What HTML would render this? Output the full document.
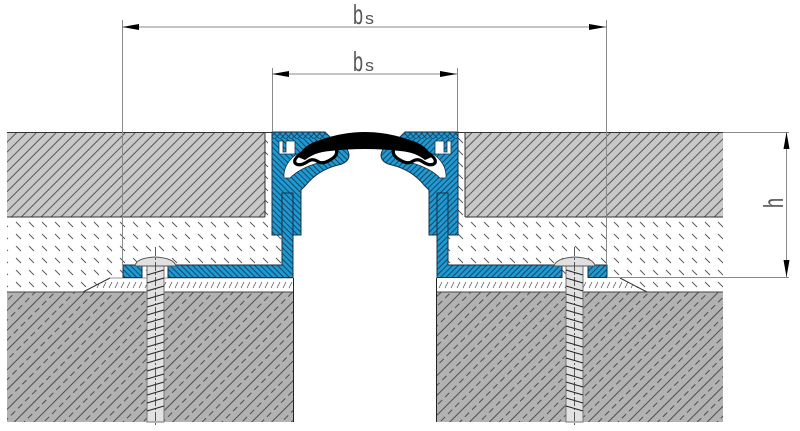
<!DOCTYPE html>
<html><head><meta charset="utf-8"><style>html,body{margin:0;padding:0;background:#fff}svg{display:block}</style></head>
<body>
<svg width="800" height="431" viewBox="0 0 800 431" xmlns="http://www.w3.org/2000/svg">
<defs>
<pattern id="tile" patternUnits="userSpaceOnUse" width="7" height="7" patternTransform="rotate(45)">
 <rect width="7" height="7" fill="#c8c8c8"/>
 <line x1="0.5" y1="0" x2="0.5" y2="7" stroke="#3a3a3a" stroke-width="0.8"/>
</pattern>
<pattern id="conc" patternUnits="userSpaceOnUse" width="14" height="20" patternTransform="rotate(45)">
 <rect width="14" height="20" fill="#b2b2b2"/>
 <line x1="0.5" y1="0" x2="0.5" y2="20" stroke="#333" stroke-width="0.8"/>
 <line x1="7.5" y1="0" x2="7.5" y2="20" stroke="#333" stroke-width="0.8" stroke-dasharray="6 4"/>
</pattern>
<pattern id="mort" patternUnits="userSpaceOnUse" x="2" y="221" width="13" height="12">
 <rect width="13" height="12" fill="#fff"/>
 <line x1="1" y1="1" x2="6" y2="6" stroke="#555" stroke-width="0.9"/>
</pattern>
<pattern id="thin" patternUnits="userSpaceOnUse" x="0" y="278" width="6" height="14">
 <rect width="6" height="14" fill="#fff"/>
 <line x1="1" y1="10" x2="4" y2="4" stroke="#555" stroke-width="0.8"/>
</pattern>
<pattern id="blue" patternUnits="userSpaceOnUse" width="4" height="4" patternTransform="rotate(-45)">
 <rect width="4" height="4" fill="#1e9ad2"/>
 <line x1="0.5" y1="0" x2="0.5" y2="4" stroke="#173a58" stroke-width="0.9"/>
</pattern>
<pattern id="bluex" patternUnits="userSpaceOnUse" width="4" height="4" patternTransform="rotate(45)">
 <rect width="4" height="4" fill="#1e9ad2"/>
 <line x1="0.5" y1="0" x2="0.5" y2="4" stroke="#173a58" stroke-width="0.8"/>
 <line x1="0" y1="0.5" x2="4" y2="0.5" stroke="#173a58" stroke-width="0.8"/>
</pattern>
</defs>

<!-- LEFT LAYERS -->
<rect x="7" y="132" width="286" height="160" fill="url(#mort)"/>
<polygon points="83,292 110,278 293,278 293,292" fill="url(#thin)"/>
<line x1="83" y1="292" x2="110" y2="278" stroke="#333" stroke-width="1"/>
<line x1="110" y1="278" x2="293" y2="278" stroke="#777" stroke-width="0.8"/>
<rect x="7" y="292" width="286" height="130" fill="url(#conc)"/>
<line x1="7" y1="292" x2="293" y2="292" stroke="#444" stroke-width="1"/>
<line x1="293.5" y1="278" x2="293.5" y2="422" stroke="#222" stroke-width="1"/>
<rect x="7" y="132" width="258" height="85" fill="url(#tile)"/>
<line x1="7" y1="132.5" x2="272" y2="132.5" stroke="#333" stroke-width="1"/>
<line x1="7" y1="217" x2="265" y2="217" stroke="#333" stroke-width="1"/>
<line x1="265" y1="132" x2="265" y2="217" stroke="#333" stroke-width="1"/>

<!-- RIGHT LAYERS -->
<rect x="437" y="132" width="286" height="160" fill="url(#mort)"/>
<polygon points="437,278 620,278 647,292 437,292" fill="url(#thin)"/>
<line x1="620" y1="278" x2="647" y2="292" stroke="#333" stroke-width="1"/>
<rect x="437" y="292" width="286" height="130" fill="url(#conc)"/>
<line x1="437" y1="292" x2="723" y2="292" stroke="#444" stroke-width="1"/>
<line x1="436.5" y1="278" x2="436.5" y2="422" stroke="#222" stroke-width="1"/>
<rect x="465" y="132" width="258" height="85" fill="url(#tile)"/>
<line x1="458" y1="132.5" x2="723" y2="132.5" stroke="#333" stroke-width="1"/>
<line x1="465" y1="217" x2="723" y2="217" stroke="#333" stroke-width="1"/>
<line x1="465" y1="132" x2="465" y2="217" stroke="#333" stroke-width="1"/>

<!-- PROFILE + SCREW (left, mirrored for right) -->
<g id="side">
 <path d="M272,132 H325 L331,138 L339,142 Q349,148 349,156 Q348,163 338,165 Q318,170 306,185 L301,190 L301,235 H272 Z" fill="url(#blue)" stroke="#1b2f45" stroke-width="1"/>
 <rect x="272.5" y="132.5" width="54" height="6.5" fill="url(#bluex)"/>
 <path d="M279,141 h4 v11 h3 v-11 h9 v13 h-16 Z" fill="#fff" stroke="#1b2f45" stroke-width="0.8"/>
 <path d="M284,178 Q283,166 294,156 Q304,149 322,150 L336,152 Q331,160 318,163 Q300,168 290,178 Z" fill="#fff" stroke="#1b2f45" stroke-width="0.8"/>
 <path d="M304,152 Q293,158 295,163 Q299,167 307,162 Q312,158 317,161 Q322,165 330,160 Q339,155 336,149" fill="#fff" stroke="#000" stroke-width="3.2" stroke-linejoin="round"/>
 <path d="M123,265 H142 V277.5 H123 Z" fill="url(#blue)" stroke="#1b2f45" stroke-width="1"/>
 <path d="M168,265 H282 V193 H293 V277.5 H168 Z" fill="url(#blue)" stroke="#1b2f45" stroke-width="1"/>
 <!-- screw -->
 <rect x="147" y="265" width="17" height="157" fill="#e2e2e2" stroke="#777" stroke-width="1"/>
 <path d="M135,266 Q136,258 155,257 Q174,258 176,266 Z" fill="#e0e0e0" stroke="#555" stroke-width="1"/>
 <g stroke="#222" stroke-width="1">
  <line x1="147" y1="275" x2="164" y2="270"/>
  <line x1="147" y1="283" x2="164" y2="278"/>
  <line x1="147" y1="291" x2="164" y2="286"/>
  <line x1="147" y1="299" x2="164" y2="294"/>
  <line x1="147" y1="307" x2="164" y2="302"/>
  <line x1="147" y1="315" x2="164" y2="310"/>
  <line x1="147" y1="323" x2="164" y2="318"/>
  <line x1="147" y1="331" x2="164" y2="326"/>
  <line x1="147" y1="339" x2="164" y2="334"/>
  <line x1="147" y1="347" x2="164" y2="342"/>
  <line x1="147" y1="355" x2="164" y2="350"/>
  <line x1="147" y1="363" x2="164" y2="358"/>
  <line x1="147" y1="371" x2="164" y2="366"/>
  <line x1="147" y1="379" x2="164" y2="374"/>
  <line x1="147" y1="387" x2="164" y2="382"/>
  <line x1="147" y1="395" x2="164" y2="390"/>
  <line x1="147" y1="403" x2="164" y2="398"/>
  <line x1="147" y1="411" x2="164" y2="406"/>
 </g>
 <line x1="155.5" y1="247" x2="155.5" y2="426" stroke="#333" stroke-width="0.8" stroke-dasharray="9 2 2 2"/>
</g>
<g transform="matrix(-1 0 0 1 730 0)">
 <path d="M272,132 H325 L331,138 L339,142 Q349,148 349,156 Q348,163 338,165 Q318,170 306,185 L301,190 L301,235 H272 Z" fill="url(#blue)" stroke="#1b2f45" stroke-width="1"/>
 <rect x="272.5" y="132.5" width="54" height="6.5" fill="url(#bluex)"/>
 <path d="M279,141 h4 v11 h3 v-11 h9 v13 h-16 Z" fill="#fff" stroke="#1b2f45" stroke-width="0.8"/>
 <path d="M284,178 Q283,166 294,156 Q304,149 322,150 L336,152 Q331,160 318,163 Q300,168 290,178 Z" fill="#fff" stroke="#1b2f45" stroke-width="0.8"/>
 <path d="M304,152 Q293,158 295,163 Q299,167 307,162 Q312,158 317,161 Q322,165 330,160 Q339,155 336,149" fill="#fff" stroke="#000" stroke-width="3.2" stroke-linejoin="round"/>
 <path d="M123,265 H142 V277.5 H123 Z" fill="url(#blue)" stroke="#1b2f45" stroke-width="1"/>
 <path d="M168,265 H282 V193 H293 V277.5 H168 Z" fill="url(#blue)" stroke="#1b2f45" stroke-width="1"/>
 <rect x="147" y="265" width="17" height="157" fill="#e2e2e2" stroke="#777" stroke-width="1"/>
 <path d="M135,266 Q136,258 155,257 Q174,258 176,266 Z" fill="#e0e0e0" stroke="#555" stroke-width="1"/>
 <g stroke="#222" stroke-width="1">
  <line x1="147" y1="275" x2="164" y2="270"/>
  <line x1="147" y1="283" x2="164" y2="278"/>
  <line x1="147" y1="291" x2="164" y2="286"/>
  <line x1="147" y1="299" x2="164" y2="294"/>
  <line x1="147" y1="307" x2="164" y2="302"/>
  <line x1="147" y1="315" x2="164" y2="310"/>
  <line x1="147" y1="323" x2="164" y2="318"/>
  <line x1="147" y1="331" x2="164" y2="326"/>
  <line x1="147" y1="339" x2="164" y2="334"/>
  <line x1="147" y1="347" x2="164" y2="342"/>
  <line x1="147" y1="355" x2="164" y2="350"/>
  <line x1="147" y1="363" x2="164" y2="358"/>
  <line x1="147" y1="371" x2="164" y2="366"/>
  <line x1="147" y1="379" x2="164" y2="374"/>
  <line x1="147" y1="387" x2="164" y2="382"/>
  <line x1="147" y1="395" x2="164" y2="390"/>
  <line x1="147" y1="403" x2="164" y2="398"/>
  <line x1="147" y1="411" x2="164" y2="406"/>
 </g>
 <line x1="155.5" y1="247" x2="155.5" y2="426" stroke="#333" stroke-width="0.8" stroke-dasharray="9 2 2 2"/>
</g>

<!-- black rubber arch -->
<path d="M298,157 Q303,145 320,140 Q365,124 410,140 Q427,145 432,157 L425,160 Q415,152 400,151 Q365,147 330,151 Q315,152 305,160 Z" fill="#000"/>

<!-- DIMENSIONS -->
<g stroke="#8a8a8a" stroke-width="1">
 <line x1="122.5" y1="20" x2="122.5" y2="265"/>
 <line x1="606.5" y1="20" x2="606.5" y2="265"/>
 <line x1="272.5" y1="68" x2="272.5" y2="132"/>
 <line x1="457.5" y1="68" x2="457.5" y2="132"/>
 <line x1="122" y1="27" x2="606" y2="27"/>
 <line x1="272" y1="74" x2="457" y2="74"/>
 <line x1="723" y1="132.5" x2="789" y2="132.5"/>
 <line x1="607" y1="277.5" x2="789" y2="277.5"/>
 <line x1="786.5" y1="132" x2="786.5" y2="277"/>
</g>
<g fill="#000">
 <polygon points="122,27 139,24 139,30"/>
 <polygon points="606,27 589,24 589,30"/>
 <polygon points="272,74 289,71 289,77"/>
 <polygon points="457,74 440,71 440,77"/>
 <polygon points="786.5,132 783.5,149 789.5,149"/>
 <polygon points="786.5,277 783.5,260 789.5,260"/>
</g>
<g font-family="Liberation Sans, sans-serif" fill="#555">
 <text x="353" y="24" font-size="28" textLength="10" lengthAdjust="spacingAndGlyphs">b</text>
 <text x="365" y="24" font-size="17" textLength="9" lengthAdjust="spacingAndGlyphs">s</text>
 <text x="353" y="71" font-size="28" textLength="10" lengthAdjust="spacingAndGlyphs">b</text>
 <text x="365" y="71" font-size="17" textLength="9" lengthAdjust="spacingAndGlyphs">s</text>
 <text transform="translate(783,208) rotate(-90)" font-size="28" textLength="10" lengthAdjust="spacingAndGlyphs">h</text>
</g>
</svg>
</body></html>
